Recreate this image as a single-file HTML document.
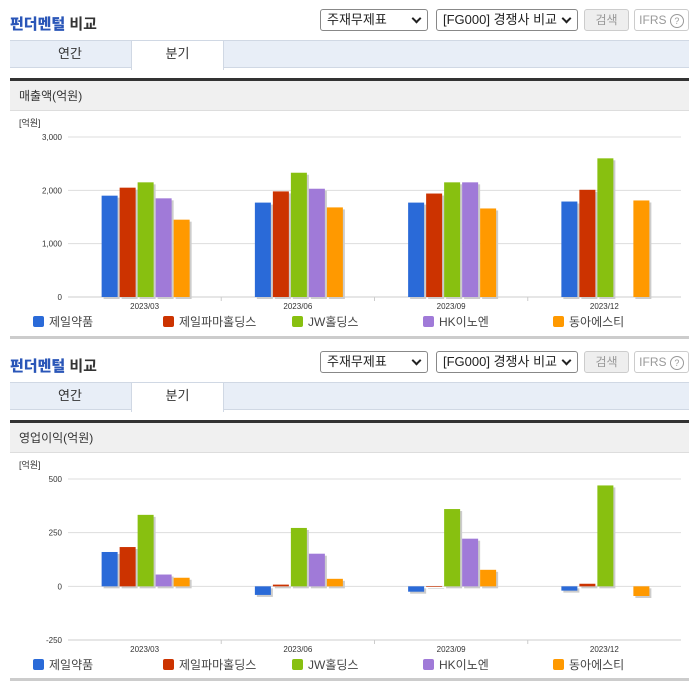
<!DOCTYPE html>
<html><head><meta charset="utf-8">
<style>
body{margin:0;width:696px;height:684px;background:#fff;font-family:"Liberation Sans","Noto Sans CJK KR",sans-serif;position:relative;overflow:hidden}
.sec{position:absolute;left:0;width:696px;height:342px}
.title{position:absolute;left:10px;top:13px;font-size:15px;font-weight:bold;color:#333}
.title b{color:#2a56b8}
.sel{position:absolute;top:9px;height:22px;border:1px solid #888;border-radius:3px;font-size:13px;line-height:20px;padding-left:6px;box-sizing:border-box;color:#222;background:#fff}
.sel i{position:absolute;right:7px;top:5px;width:5px;height:5px;border-right:2px solid #222;border-bottom:2px solid #222;transform:rotate(45deg)}
.btn{position:absolute;top:9px;height:22px;border:1px solid #ccc;border-radius:3px;font-size:12px;line-height:20px;text-align:center;box-sizing:border-box;color:#999;background:#eee}
.tabs{position:absolute;left:10px;top:40px;width:679px;height:28px;background:#e8eef7;border-top:1px solid #d0d8e4;border-bottom:1px solid #d0d8e4;box-sizing:border-box}
.tab{position:absolute;top:0;height:28px;line-height:26px;text-align:center;font-size:13px;color:#333}
.dark{position:absolute;left:10px;top:78px;width:679px;height:3px;background:#333}
.hdr{position:absolute;left:10px;top:81px;width:679px;height:30px;background:#f0f0f0;border-bottom:1px solid #ddd;font-size:12px;line-height:30px;padding-left:9px;box-sizing:border-box;color:#333}
.foot{position:absolute;left:10px;top:336px;width:679px;height:3px;background:#ccc}
svg{position:absolute;left:0;top:110px}
</style></head><body>
<div class="sec" id="s1" style="top:0"></div>
<div class="sec" id="s2" style="top:342px"></div>
<script>
const categories=["2023/03","2023/06","2023/09","2023/12"];
const seriesNames=["제일약품","제일파마홀딩스","JW홀딩스","HK이노엔","동아에스티"];
const colors=["#2a6ad8","#cc3300","#88c010","#a07ad8","#ff9900"];
const rev0=[1900,1770,1770,1790];
const rev1=[2050,1980,1940,2010];
const rev2=[2150,2330,2150,2600];
const rev3=[1850,2030,2150,null];
const rev4=[1450,1680,1660,1810];
const op0=[160,-40,-25,-20];
const op1=[183,8,-3,12];
const op2=[333,272,360,470];
const op3=[55,152,222,null];
const op4=[40,35,77,-45];
const revTicks=[0,1000,2000,3000];
const revTickLabels=["0","1,000","2,000","3,000"];
const opTicks=[-250,0,250,500];
const opTickLabels=["-250","0","250","500"];
const NS="http://www.w3.org/2000/svg";
function mk(tag,attrs,parent){const e=document.createElementNS(NS,tag);for(const k in attrs)e.setAttribute(k,attrs[k]);parent.appendChild(e);return e;}
function build(sec,hdrText,series,ticks,tickLabels,min,max,top0,bot0){
  let h=`<div class="title"><b>펀더멘털</b> 비교</div>
<div class="sel" style="left:320px;width:108px">주재무제표<i></i></div>
<div class="sel" style="left:436px;width:142px">[FG000] 경쟁사 비교<i></i></div>
<div class="btn" style="left:584px;width:45px">검색</div>
<div class="btn" style="left:634px;width:55px;background:#fff">IFRS <span style="display:inline-block;width:12px;height:12px;border:1px solid #999;border-radius:50%;font-size:9px;line-height:12px">?</span></div>
<div class="tabs"><div class="tab" style="left:0;width:120px">연간</div><div class="tab" style="left:121px;width:91px;background:#fff;border:1px solid #d0d8e4;border-bottom:none;top:-1px;height:29px">분기</div></div>
<div class="dark"></div>
<div class="hdr">${hdrText}</div>
<div class="foot"></div>`;
  sec.innerHTML=h;
  const svg=mk("svg",{width:696,height:228},sec);
  
  
  const L=68,R=681,yT=top0,yB=bot0;
  const y=v=>yB-(v-min)/(max-min)*(yB-yT);
  const cw=(R-L)/categories.length;
  const u=mk("text",{x:19,y:yT-11,"font-size":9,fill:"#333"},svg);u.textContent="[억원]";
  
  ticks.forEach((t,i)=>{
    const gl=mk("line",{x1:L,x2:R,y1:y(t),y2:y(t),stroke:"#ddd"},svg);
    
    const tx=mk("text",{x:62,y:y(t)+3,"font-size":8,fill:"#333","text-anchor":"end"},svg);tx.textContent=tickLabels[i];
    
  });
  mk("line",{x1:L,x2:R,y1:yB,y2:yB,stroke:"#ccc"},svg);
  const y0=y(0);
  categories.forEach((c,ci)=>{
    const cx=L+cw*(ci+0.5);
    if(ci>0){mk("line",{x1:L+cw*ci,x2:L+cw*ci,y1:yB,y2:yB+4,stroke:"#ccc"},svg);}
    const tl=mk("text",{x:cx,y:yB+12,"font-size":8,fill:"#333","text-anchor":"middle"},svg);tl.textContent=c;
    
    series.forEach((s,si)=>{
      const v=s[ci];if(v==null)return;
      const bx=cx-43+si*18, top=Math.min(y(v),y0), hh=Math.abs(y(v)-y0);
      mk("rect",{x:bx+2,y:top+2,width:16,height:hh,fill:"#ccc"},svg);
      const r=mk("rect",{x:bx,y:top,width:16,height:hh,fill:colors[si]},svg);
      
    });
  });
  const lx=[33,163,292,423,553];
  seriesNames.forEach((n,i)=>{
    const g=mk("g",{},svg);
    
    mk("rect",{x:lx[i],y:yB+19,width:11,height:11,rx:2,fill:colors[i]},g);
    const t=mk("text",{x:lx[i]+16,y:yB+29,"font-size":12,fill:"#444"},g);t.textContent=n;
  });
}
build(document.getElementById("s1"),"매출액(억원)",[rev0,rev1,rev2,rev3,rev4],revTicks,revTickLabels,0,3000,27,187);
build(document.getElementById("s2"),"영업이익(억원)",[op0,op1,op2,op3,op4],opTicks,opTickLabels,-250,500,27,188);
</script>
</body></html>
